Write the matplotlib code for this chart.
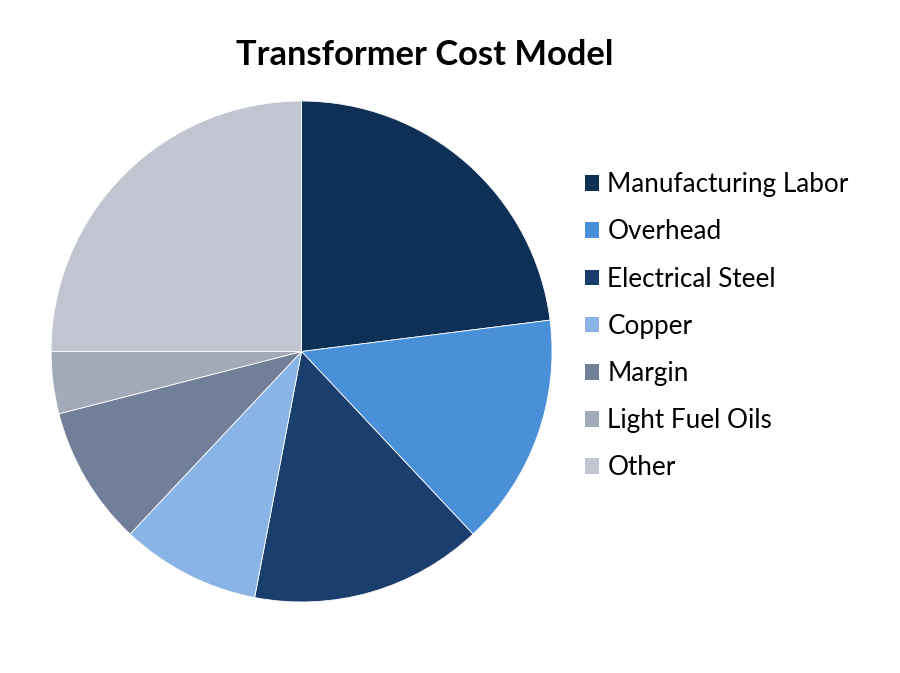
import matplotlib.pyplot as plt
from matplotlib.patches import Patch

# cost shares (%)
labels = ['Manufacturing Labor', 'Overhead', 'Electrical Steel', 'Copper',
          'Margin', 'Light Fuel Oils', 'Other']
values = [23, 15, 15, 9, 9, 4, 25]
colors = ['#0E2F56', '#4A90D9', '#1A3F6F', '#8AB4E6',
          '#717F99', '#A2A9B8', '#C1C5D1']

plt.rcParams['font.family'] = ['Lato', 'DejaVu Sans']

fig = plt.figure(figsize=(9, 6.73), dpi=100)
ax = fig.add_axes([0.0567, 0.1055, 0.5567, 0.7444])

ax.pie(values, colors=colors, startangle=90, counterclock=False, radius=1,
       wedgeprops=dict(linewidth=0.6, edgecolor='white'))
ax.set_xlim(-1, 1)
ax.set_ylim(-1, 1)
ax.set_aspect('equal')

fig.text(0.472, 0.918, 'Transformer Cost Model', ha='center', va='center',
         fontsize=24.8, fontweight='bold')

handles = [Patch(facecolor=c, edgecolor='none') for c in colors]
fig.legend(handles, labels, loc='upper left', bbox_to_anchor=(0.6236, 0.779),
           frameon=False, fontsize=18.8, handlelength=0.55, handleheight=0.55,
           handletextpad=0.32, labelspacing=0.85)

fig.savefig('out.png', dpi=100)
